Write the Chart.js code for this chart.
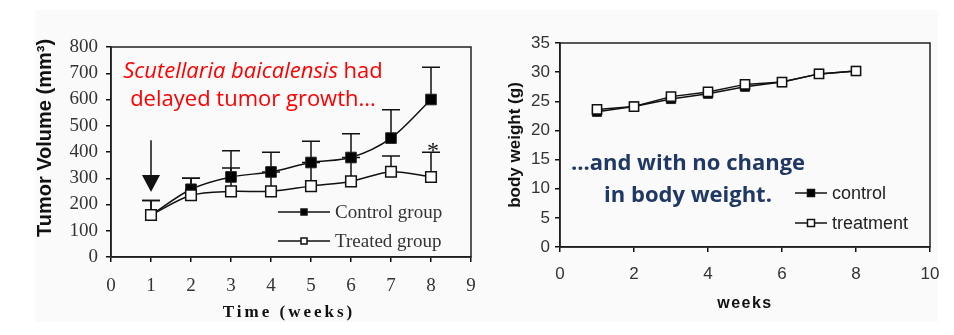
<!DOCTYPE html>
<html>
<head>
<meta charset="utf-8">
<script src="https://cdn.jsdelivr.net/npm/chart.js@4.4.1/dist/chart.umd.min.js"></script>
<style>
    body { margin: 0; background: #fff; width: 954px; height: 335px; position: relative; overflow: hidden; }
    #bg { position: absolute; left: 35px; top: 10px; width: 903px; height: 312px; background: #fafafa; }
    #left { position: absolute; left: 0; top: 0; width: 480px; height: 335px; }
    #right { position: absolute; left: 480px; top: 0; width: 474px; height: 335px; }
</style>
</head>
<body>
<div id="bg"></div>
<div id="left"><canvas id="tumorChart" width="480" height="335"></canvas></div>
<div id="right"><canvas id="weightChart" width="474" height="335"></canvas></div>
<script>
// tumor volume panel
const weeks = [1, 2, 3, 4, 5, 6, 7, 8];
const controlVolume = [160, 258, 305, 324, 360, 379, 453, 600];
const controlVolumeErr = [55, 42, 100, 75, 81, 91, 108, 123];
const treatedVolume = [160, 235, 250, 250, 270, 288, 325, 305];
const treatedVolumeErr = [55, 65, 89, 74, 90, 91, 60, 94];
const volumeTicks = [0, 100, 200, 300, 400, 500, 600, 700, 800];
const timeTicks = [0, 1, 2, 3, 4, 5, 6, 7, 8, 9];

// body weight panel
const controlWeight = [23.2, 24.1, 25.4, 26.3, 27.5, 28.3, 29.7, 30.2];
const treatmentWeight = [23.6, 24.1, 25.8, 26.6, 27.9, 28.3, 29.7, 30.2];
const weightTicks = [0, 5, 10, 15, 20, 25, 30, 35];
const weekTicks = [0, 2, 4, 6, 8, 10];

// arrow (treatment start) and significance mark, in data units
const arrowAt = { week: 1, from: 445, to: 248 };
const starAt = { week: 8.05, value: 415 };

const SERIF = '"Liberation Serif", "Times New Roman", serif';
const SANS = '"Liberation Sans", Arial, sans-serif';

const points = (ys) => weeks.map((w, i) => ({ x: w, y: ys[i] }));

const frame = {
    id: 'frame',
    beforeDatasetsDraw(chart) {
        const { ctx, chartArea: a } = chart;
        ctx.save();
        ctx.strokeStyle = '#222';
        ctx.lineWidth = 1.5;
        ctx.strokeRect(a.left, a.top, a.right - a.left, a.bottom - a.top);
        ctx.restore();
    }
};

const errorBars = {
    id: 'errorBars',
    beforeDatasetsDraw(chart) {
        const { ctx, scales: { x, y } } = chart;
        ctx.save();
        ctx.strokeStyle = '#111';
        ctx.lineWidth = 1.5;
        chart.data.datasets.forEach(ds => {
            if (!ds.errors) return;
            ds.data.forEach((p, i) => {
                const px = x.getPixelForValue(p.x);
                const y0 = y.getPixelForValue(p.y);
                const y1 = y.getPixelForValue(p.y + ds.errors[i]);
                ctx.beginPath();
                ctx.moveTo(px, y0);
                ctx.lineTo(px, y1);
                ctx.moveTo(px - 9, y1);
                ctx.lineTo(px + 9, y1);
                ctx.stroke();
            });
        });
        ctx.restore();
    }
};

const marks = {
    id: 'marks',
    afterDatasetsDraw(chart) {
        const { ctx, scales: { x, y } } = chart;
        const ax = x.getPixelForValue(arrowAt.week);
        const top = y.getPixelForValue(arrowAt.from);
        const tip = y.getPixelForValue(arrowAt.to);
        ctx.save();
        ctx.strokeStyle = '#111';
        ctx.fillStyle = '#111';
        ctx.lineWidth = 1.5;
        ctx.beginPath();
        ctx.moveTo(ax, top);
        ctx.lineTo(ax, tip - 14);
        ctx.stroke();
        ctx.beginPath();
        ctx.moveTo(ax - 9, tip - 17);
        ctx.lineTo(ax + 9, tip - 17);
        ctx.lineTo(ax, tip);
        ctx.closePath();
        ctx.fill();
        ctx.font = '24px ' + SERIF;
        ctx.textAlign = 'center';
        ctx.textBaseline = 'middle';
        ctx.fillText('*', x.getPixelForValue(starAt.week), y.getPixelForValue(starAt.value) + 4);
        ctx.restore();
    }
};

// legend drawn inside the plot, Excel style: line with a marker in the middle
function makeLegend(items, cfg) {
    return {
        id: 'insideLegend',
        afterDraw(chart) {
            const ctx = chart.ctx;
            ctx.save();
            items.forEach((it, i) => {
                const y = cfg.y + i * cfg.step;
                ctx.strokeStyle = '#111';
                ctx.lineWidth = 1.5;
                ctx.beginPath();
                ctx.moveTo(cfg.x1, y);
                ctx.lineTo(cfg.x2, y);
                ctx.stroke();
                const mx = (cfg.x1 + cfg.x2) / 2, s = cfg.box;
                ctx.fillStyle = it.fill;
                ctx.fillRect(mx - s / 2, y - s / 2, s, s);
                ctx.strokeRect(mx - s / 2, y - s / 2, s, s);
                ctx.fillStyle = cfg.color;
                ctx.font = cfg.font;
                ctx.textAlign = 'left';
                ctx.textBaseline = 'middle';
                ctx.fillText(it.label, cfg.x2 + cfg.gap, y + 1);
            });
            ctx.restore();
        }
    };
}

// axis titles and slide captions
function makeTexts(texts) {
    return {
        id: 'texts',
        afterDraw(chart) {
            const ctx = chart.ctx;
            texts.forEach(t => {
                ctx.save();
                ctx.translate(t.x, t.y);
                if (t.rotate) ctx.rotate(t.rotate);
                ctx.textBaseline = t.baseline || 'middle';
                ctx.fillStyle = t.color || '#111';
                ctx.letterSpacing = t.spacing || '0px';
                const parts = t.parts || [{ text: t.text, font: t.font }];
                let total = 0;
                parts.forEach(p => { ctx.font = p.font; p.w = ctx.measureText(p.text).width; total += p.w; });
                let cx = -total / 2;
                ctx.textAlign = 'left';
                parts.forEach(p => { ctx.font = p.font; ctx.fillText(p.text, cx, 0); cx += p.w; });
                ctx.restore();
            });
        }
    };
}

function axis(ticksList, min, max, font, pad, size, afterFitKey) {
    return {
        type: 'linear',
        min: min,
        max: max,
        afterBuildTicks: s => { s.ticks = ticksList.map(v => ({ value: v })); },
        afterFit: s => {
            s[afterFitKey] = size;
            // keep the plot box fixed; edge labels fit in the layout padding
            s.paddingLeft = 0; s.paddingRight = 0; s.paddingTop = 0; s.paddingBottom = 0;
        },
        ticks: { font: font, color: '#333', padding: pad, autoSkip: false, maxRotation: 0 },
        grid: { drawOnChartArea: false, drawTicks: true, tickLength: 5, color: '#111', lineWidth: 1.5 },
        border: { display: true, color: '#111', width: 1.5 }
    };
}

new Chart(document.getElementById('tumorChart'), {
    type: 'line',
    data: {
        datasets: [{
            label: 'Control group',
            data: points(controlVolume),
            errors: controlVolumeErr,
            order: 1,
            borderColor: '#111',
            borderWidth: 1.5,
            tension: 0.3,
            pointStyle: 'rect',
            pointRadius: 7.5,
            pointBackgroundColor: '#000',
            pointBorderColor: '#222',
            pointBorderWidth: 1
        }, {
            label: 'Treated group',
            data: points(treatedVolume),
            errors: treatedVolumeErr,
            order: 0,
            borderColor: '#111',
            borderWidth: 1.5,
            tension: 0.3,
            pointStyle: 'rect',
            pointRadius: 7.5,
            pointBackgroundColor: '#fff',
            pointBorderColor: '#111',
            pointBorderWidth: 1.5
        }]
    },
    options: {
        responsive: false,
        animation: false,
        layout: { padding: { left: 0, top: 47, right: 9, bottom: 0 } },
        plugins: { legend: { display: false }, tooltip: { enabled: false } },
        scales: {
            x: axis(timeTicks, 0, 9, { family: SERIF, size: 19 }, 13, 78, 'height'),
            y: axis(volumeTicks, 0, 800, { family: SERIF, size: 19 }, 8, 111, 'width')
        }
    },
    plugins: [frame, errorBars, marks,
        makeLegend([{ label: 'Control group', fill: '#000' }, { label: 'Treated group', fill: '#fff' }],
            { x1: 278, x2: 330, y: 212, step: 29, box: 6, gap: 5, color: '#333', font: '19px ' + SERIF }),
        makeTexts([
            { x: 45, y: 138, rotate: -Math.PI / 2, font: 'bold 20px ' + SANS, text: 'Tumor Volume (mm³)' },
            { x: 289, y: 313, font: 'bold 17px ' + SERIF, text: 'Time (weeks)', spacing: '3px' },
            { x: 253, y: 78, baseline: 'alphabetic', color: '#ff0000',
              parts: [{ text: 'Scutellaria baicalensis', font: 'italic 22px "Open Sans"' },
                      { text: ' had', font: '22px "Open Sans"' }] },
            { x: 253, y: 106, baseline: 'alphabetic', color: '#ff0000', font: '22px "Open Sans"', text: 'delayed tumor growth...' }
        ])]
});

new Chart(document.getElementById('weightChart'), {
    type: 'line',
    data: {
        datasets: [{
            label: 'control',
            data: points(controlWeight),
            order: 1,
            borderColor: '#111',
            borderWidth: 1.5,
            tension: 0,
            pointStyle: 'rect',
            pointRadius: 6.5,
            pointBackgroundColor: '#000',
            pointBorderColor: '#222',
            pointBorderWidth: 1
        }, {
            label: 'treatment',
            data: points(treatmentWeight),
            order: 0,
            borderColor: '#111',
            borderWidth: 1.5,
            tension: 0,
            pointStyle: 'rect',
            pointRadius: 6.5,
            pointBackgroundColor: '#fff',
            pointBorderColor: '#111',
            pointBorderWidth: 1.5
        }]
    },
    options: {
        responsive: false,
        animation: false,
        layout: { padding: { left: 0, top: 43, right: 24, bottom: 0 } },
        plugins: { legend: { display: false }, tooltip: { enabled: false } },
        scales: {
            x: axis(weekTicks, 0, 10, { family: SANS, size: 17 }, 12, 88, 'height'),
            y: axis(weightTicks, 0, 35, { family: SANS, size: 17 }, 5, 80, 'width')
        }
    },
    plugins: [frame,
        makeLegend([{ label: 'control', fill: '#000' }, { label: 'treatment', fill: '#fff' }],
            { x1: 315, x2: 347, y: 193, step: 30, box: 7, gap: 5, color: '#222', font: '18px ' + SANS }),
        makeTexts([
            { x: 35, y: 145, rotate: -Math.PI / 2, font: 'bold 17px ' + SANS, text: 'body weight (g)' },
            { x: 265, y: 304, font: 'bold 16px ' + SANS, text: 'weeks', spacing: '1.5px' },
            { x: 208, y: 170, baseline: 'alphabetic', color: '#1f3864', font: 'bold 22px "Open Sans"', text: '...and with no change' },
            { x: 208, y: 202, baseline: 'alphabetic', color: '#1f3864', font: 'bold 22px "Open Sans"', text: 'in body weight.' }
        ])]
});
</script>
</body>
</html>
